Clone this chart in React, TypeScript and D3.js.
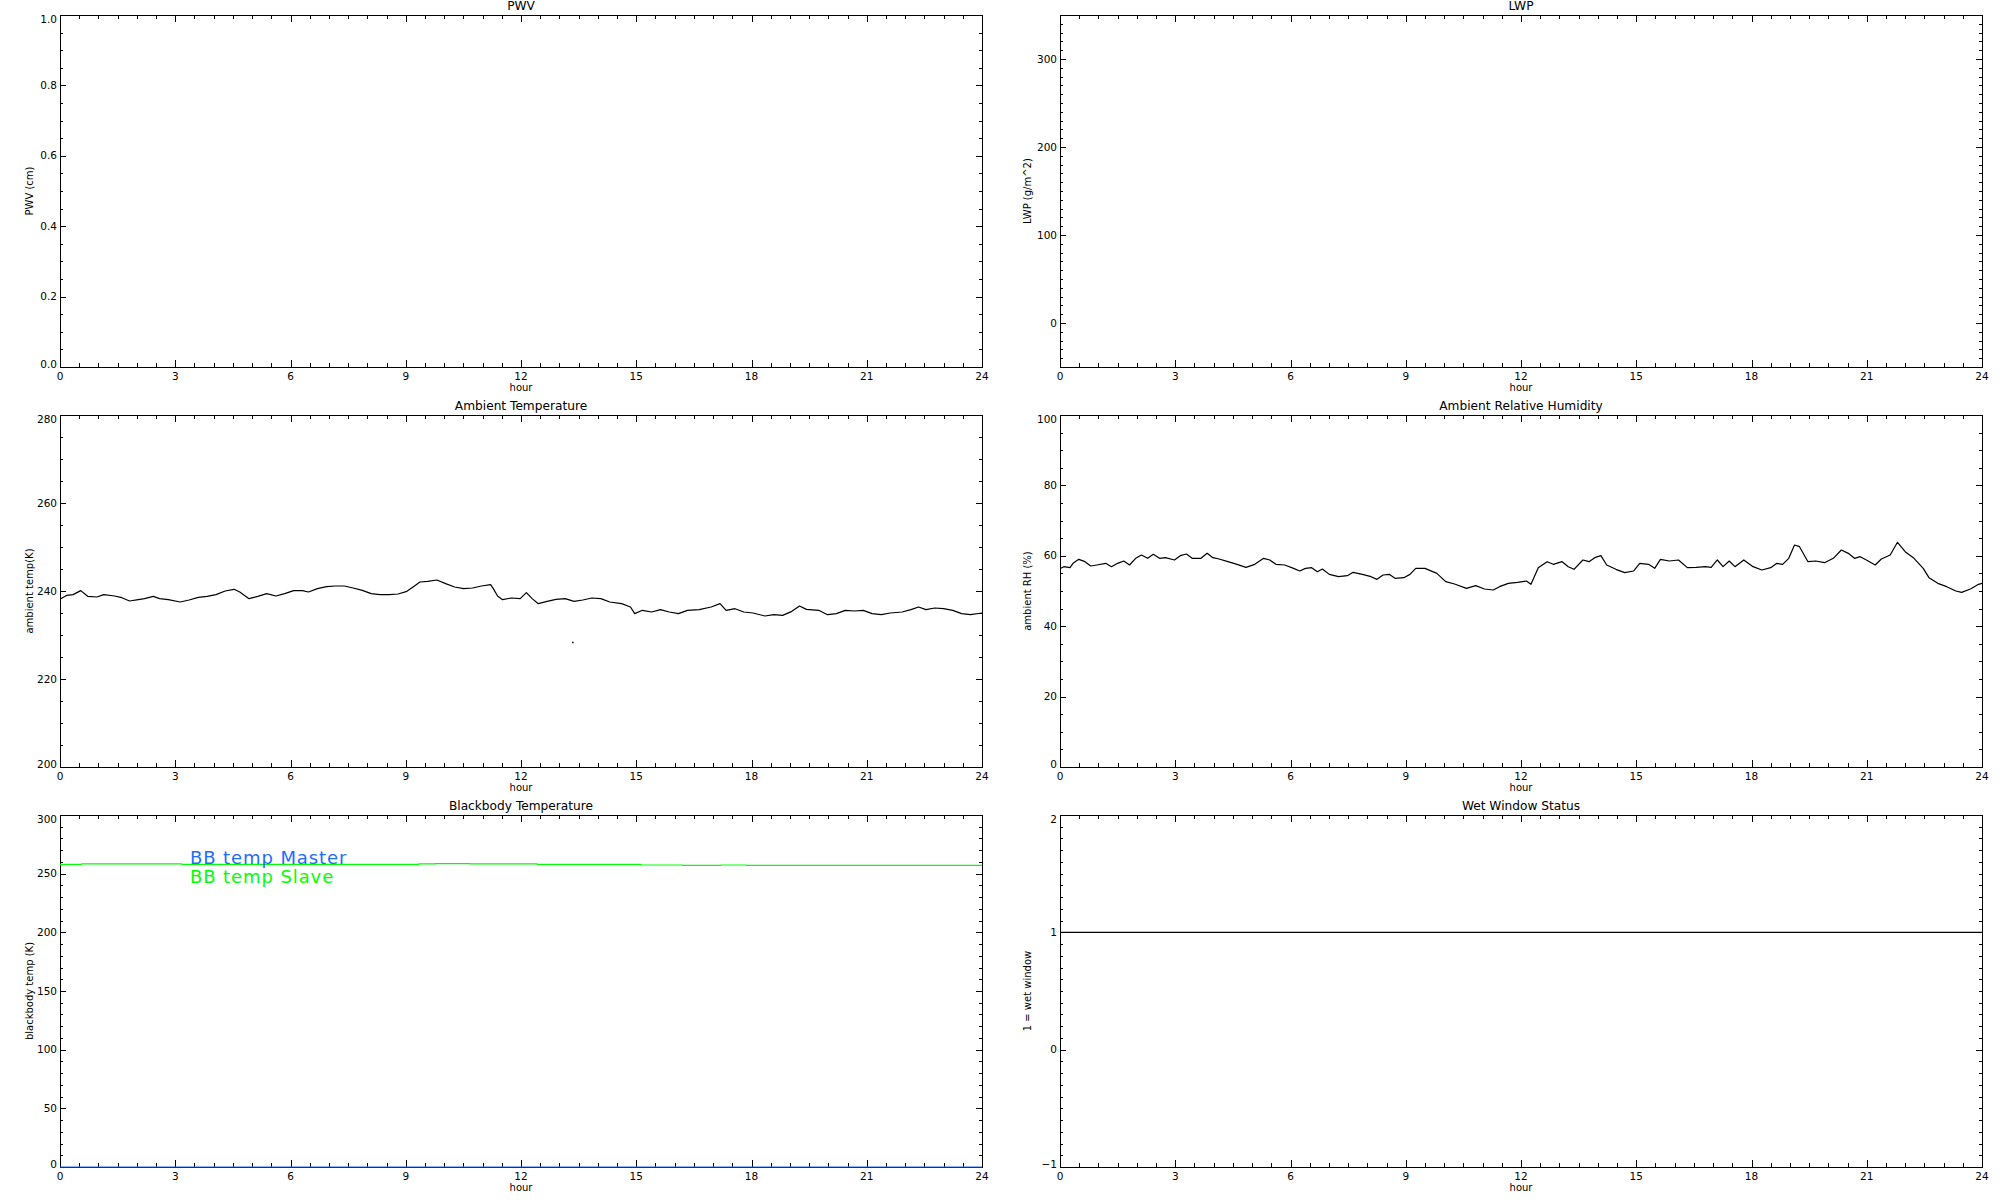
import React from "react";
import * as d3 from "d3";

// ---------------- DATA ----------------
const xTickHours = [0, 3, 6, 9, 12, 15, 18, 21, 24];

const tempHours = [0.02,0.18,0.34,0.54,0.72,0.96,1.14,1.42,1.61,1.81,2.04,2.2,2.43,2.59,2.82,3.13,3.36,3.6,3.83,4.06,4.3,4.53,4.68,4.92,5.15,5.38,5.62,5.85,6.08,6.31,6.47,6.7,6.94,7.17,7.4,7.63,7.87,8.1,8.33,8.57,8.8,9.03,9.19,9.37,9.57,9.81,10.04,10.27,10.51,10.74,10.97,11.21,11.28,11.39,11.52,11.75,11.98,12.14,12.29,12.45,12.68,12.91,13.15,13.38,13.61,13.84,14.08,14.31,14.62,14.85,14.96,15.16,15.4,15.63,15.86,16.1,16.33,16.64,16.95,17.18,17.34,17.57,17.8,18.04,18.35,18.58,18.81,19.05,19.25,19.43,19.75,19.98,20.21,20.44,20.68,20.91,21.14,21.38,21.61,21.92,22.15,22.35,22.54,22.77,23.0,23.24,23.47,23.7,24.0];
const tempValues = [238.26,239.02,239.17,240.08,238.79,238.64,239.17,238.86,238.48,237.73,238.03,238.26,238.79,238.26,238.03,237.5,237.95,238.56,238.79,239.17,240.0,240.38,239.77,238.26,238.79,239.39,238.86,239.39,240.08,240.08,239.77,240.53,240.98,241.14,241.14,240.68,240.15,239.39,239.17,239.17,239.32,239.92,240.91,242.05,242.2,242.5,241.67,240.91,240.53,240.68,241.14,241.44,240.53,238.86,238.03,238.41,238.26,239.62,238.26,237.12,237.65,238.11,238.26,237.65,237.95,238.41,238.26,237.5,237.12,236.36,234.85,235.61,235.23,235.76,235.23,234.85,235.61,235.76,236.36,237.12,235.61,235.98,235.23,235.0,234.32,234.62,234.47,235.38,236.59,235.83,235.61,234.62,234.85,235.61,235.45,235.61,234.85,234.62,235.0,235.23,235.76,236.36,235.76,236.14,235.98,235.61,234.85,234.62,235.0];
const tempOutlierHours = [13.35];
const tempOutlierValues = [228.3];

const rhHours = [0.02,0.1,0.26,0.34,0.49,0.65,0.8,0.96,1.19,1.34,1.5,1.66,1.81,1.97,2.12,2.28,2.43,2.59,2.74,2.98,3.13,3.29,3.44,3.67,3.83,3.98,4.14,4.37,4.61,4.84,5.07,5.3,5.46,5.62,5.85,6.08,6.24,6.39,6.55,6.7,6.83,7.01,7.25,7.48,7.63,7.87,8.1,8.25,8.41,8.57,8.72,8.95,9.11,9.26,9.5,9.81,10.04,10.27,10.58,10.82,11.05,11.28,11.44,11.67,11.91,12.14,12.26,12.45,12.68,12.84,13.07,13.23,13.38,13.61,13.77,13.92,14.08,14.23,14.47,14.7,14.93,15.09,15.32,15.48,15.63,15.86,16.1,16.33,16.56,16.8,16.95,17.11,17.26,17.42,17.57,17.8,18.04,18.27,18.5,18.66,18.81,18.97,19.12,19.25,19.47,19.67,19.9,20.13,20.34,20.52,20.68,20.83,20.99,21.22,21.38,21.61,21.8,22.0,22.23,22.47,22.62,22.85,23.08,23.32,23.47,23.7,23.91,24.0];
const rhValues = [56.44,56.91,56.63,57.86,59.0,58.33,57.1,57.39,57.86,56.91,57.86,58.52,57.39,59.28,60.23,59.28,60.42,59.28,59.47,58.81,60.04,60.51,59.28,59.28,60.7,59.47,59.09,58.33,57.58,56.72,57.58,59.28,58.81,57.58,57.39,56.44,55.68,56.44,56.63,55.49,56.25,54.73,54.07,54.36,55.3,54.73,54.07,53.31,54.55,54.73,53.6,53.79,54.73,56.44,56.44,55.02,52.65,51.99,50.76,51.52,50.57,50.28,51.23,52.18,52.46,52.84,51.89,56.63,58.33,57.58,58.33,56.91,56.16,58.81,58.33,59.47,60.04,57.39,56.16,55.21,55.68,57.86,57.58,56.44,59.0,58.52,58.81,56.63,56.72,56.91,56.72,58.81,56.91,58.52,56.91,58.81,56.91,55.97,56.63,57.86,57.58,59.28,63.07,62.59,58.33,58.52,58.05,59.28,61.65,60.7,59.28,59.75,58.81,57.39,59.09,60.23,63.83,61.17,59.28,56.44,53.79,52.18,51.23,50.0,49.62,50.57,51.89,52.18];

const bbSlaveHours = [0, 0.56, 3.17, 9.34, 9.77, 10.67, 12.42, 15.12, 16.2, 17.2, 17.86, 24];
const bbSlaveValues = [258.0, 258.4, 258.0, 258.3, 258.6, 258.3, 258.0, 257.4, 257.1, 257.4, 257.1, 257.1];
const bbMasterHours = [0, 24];
const bbMasterValues = [0, 0];

const wetHours = [0, 24];
const wetValues = [1, 1];

const legendLabels = ["BB temp Master", "BB temp Slave"];
const legendColors = ["#1e6bff", "#00ff00"];

// ---------------- LAYOUT ----------------
const W = 2000, H = 1200;
const COLS = [{ x0: 60, x1: 982, yLabelX: 29 }, { x0: 1060, x1: 1982, yLabelX: 1027 }];
const ROWS = [15, 415, 815];
const PH = 352;
const FONT = "'DejaVu Sans', sans-serif";

type Series = { hours: number[]; values: number[]; color: string; step?: boolean; width?: number };
type Panel = {
  col: number; row: number; title: string; ylabel: string;
  domain: [number, number]; major: number[]; minorStep: number; fmt: (v: number) => string;
  series: Series[]; dots?: { hours: number[]; values: number[] };
  legend?: boolean;
};

const panels: Panel[] = [
  { col: 0, row: 0, title: "PWV", ylabel: "PWV (cm)", domain: [0, 1], major: [0, 0.2, 0.4, 0.6, 0.8, 1.0], minorStep: 0.05, fmt: d3.format(".1f"), series: [] },
  { col: 1, row: 0, title: "LWP", ylabel: "LWP (g/m^2)", domain: [-50, 350], major: [0, 100, 200, 300], minorStep: 10, fmt: d3.format("d"), series: [] },
  { col: 0, row: 1, title: "Ambient Temperature", ylabel: "ambient temp(K)", domain: [200, 280], major: [200, 220, 240, 260, 280], minorStep: 5, fmt: d3.format("d"),
    series: [{ hours: tempHours, values: tempValues, color: "#000" }], dots: { hours: tempOutlierHours, values: tempOutlierValues } },
  { col: 1, row: 1, title: "Ambient Relative Humidity", ylabel: "ambient RH (%)", domain: [0, 100], major: [0, 20, 40, 60, 80, 100], minorStep: 5, fmt: d3.format("d"),
    series: [{ hours: rhHours, values: rhValues, color: "#000" }] },
  { col: 0, row: 2, title: "Blackbody Temperature", ylabel: "blackbody temp (K)", domain: [0, 300], major: [0, 50, 100, 150, 200, 250, 300], minorStep: 10, fmt: d3.format("d"),
    series: [
      { hours: bbMasterHours, values: bbMasterValues, color: legendColors[0], width: 1.2 },
      { hours: bbSlaveHours, values: bbSlaveValues, color: legendColors[1], step: true, width: 1.2 },
    ], legend: true },
  { col: 1, row: 2, title: "Wet Window Status", ylabel: "1 = wet window", domain: [-1, 2], major: [-1, 0, 1, 2], minorStep: 0.1, fmt: d3.format("d"),
    series: [{ hours: wetHours, values: wetValues, color: "#000" }] },
];

function PanelView({ p }: { p: Panel }) {
  const c = COLS[p.col];
  const top = ROWS[p.row];
  const bottom = top + PH;
  const x = d3.scaleLinear().domain([0, 24]).range([c.x0, c.x1]);
  const y = d3.scaleLinear().domain(p.domain).range([bottom, top]);
  const xMinor = d3.range(0, 24.0001, 0.5);
  const nMinor = Math.round((p.domain[1] - p.domain[0]) / p.minorStep);
  const yMinor = d3.range(0, nMinor + 1).map((i) => p.domain[0] + i * p.minorStep);
  const cx = (c.x0 + c.x1) / 2;
  const cy = (top + bottom) / 2;
  const ticks: JSX.Element[] = [];
  xMinor.forEach((h, i) => {
    const isMajor = Math.abs(h / 3 - Math.round(h / 3)) < 1e-6;
    const len = isMajor ? 7 : 4;
    const xx = Math.round(x(h)) + 0.5;
    ticks.push(<line key={"xb" + i} x1={xx} x2={xx} y1={bottom} y2={bottom - len} />);
    ticks.push(<line key={"xt" + i} x1={xx} x2={xx} y1={top} y2={top + len} />);
  });
  yMinor.forEach((v, i) => {
    const isMajor = p.major.some((m) => Math.abs(m - v) < 1e-6);
    const len = isMajor ? 6 : 3;
    const yy = Math.round(y(v)) + 0.5;
    ticks.push(<line key={"yl" + i} x1={c.x0} x2={c.x0 + len} y1={yy} y2={yy} />);
    ticks.push(<line key={"yr" + i} x1={c.x1} x2={c.x1 - len} y1={yy} y2={yy} />);
  });
  return (
    <g>
      <g stroke="#000" strokeWidth={1} shapeRendering="crispEdges">
        <rect x={c.x0 + 0.5} y={top + 0.5} width={c.x1 - c.x0} height={PH} fill="none" />
        {ticks}
      </g>
      {p.series.map((s, i) => {
        const pts = s.hours.map((h, k) => [h, s.values[k]] as [number, number]);
        const gen = d3.line<[number, number]>().x((d) => x(d[0])).y((d) => y(d[1]))
          .curve(s.step ? d3.curveStepAfter : d3.curveLinear);
        return <path key={"s" + i} d={gen(pts) || ""} fill="none" stroke={s.color} strokeWidth={s.width ?? 1.2} strokeLinejoin="round" />;
      })}
      <g fontFamily={FONT} fontSize={10.5} fill="#000">
        {xTickHours.map((h) => (
          <text key={"xl" + h} x={x(h)} y={bottom + 13} textAnchor="middle">{h}</text>
        ))}
        {p.major.map((v) => {
          const yy = Math.min(Math.max(y(v), top + 4), bottom - 3);
          return (
            <text key={"yl" + v} x={c.x0 - 3} y={yy} dy="0.35em" textAnchor="end">{p.fmt(v)}</text>
          );
        })}
        <text x={cx} y={bottom + 24} textAnchor="middle" fontSize={10}>hour</text>
        <text x={cx} y={top - 5} textAnchor="middle" fontSize={12.2}>{p.title}</text>
        <text transform={`translate(${c.yLabelX},${cy}) rotate(-90)`} textAnchor="middle" dy="0.35em" fontSize={10}>{p.ylabel}</text>
      </g>
      {p.dots && p.dots.hours.map((h, k) => (
        <rect key={"d" + k} x={x(h) - 0.75} y={y(p.dots!.values[k]) - 0.75} width={1.5} height={1.5} fill="#000" />
      ))}
      {p.legend && (
        <g fontFamily={FONT} fontSize={18} letterSpacing={0.9}>
          {legendLabels.map((l, i) => (
            <text key={l} x={c.x0 + 130} y={top + 49 + i * 19} fill={legendColors[i]}>{l}</text>
          ))}
        </g>
      )}
    </g>
  );
}

export default function App() {
  return (
    <svg width={W} height={H} viewBox={`0 0 ${W} ${H}`} style={{ position: "absolute", left: 0, top: 0, display: "block", background: "#fff" }}>
      <rect x={0} y={0} width={W} height={H} fill="#fff" />
      {panels.map((p, i) => <PanelView key={i} p={p} />)}
    </svg>
  );
}
